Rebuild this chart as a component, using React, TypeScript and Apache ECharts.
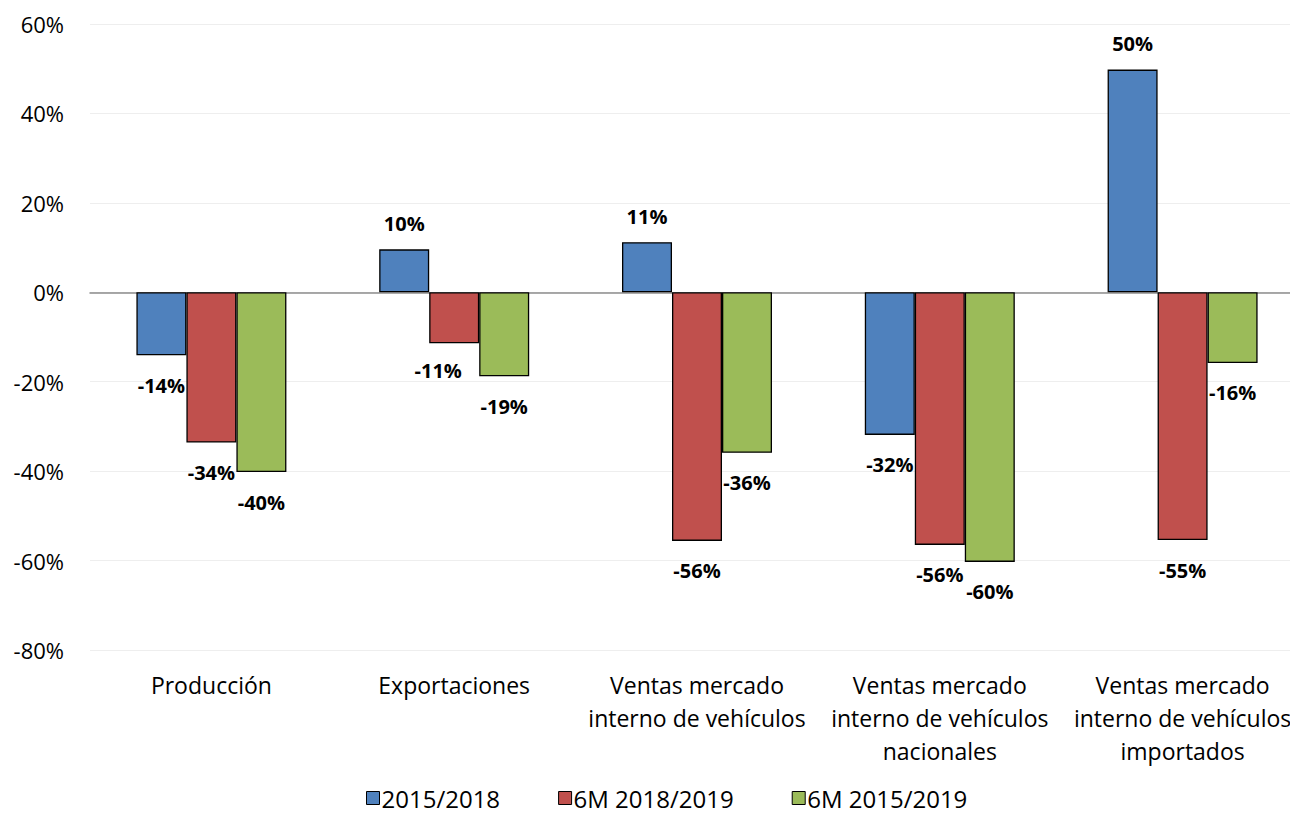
import React, { useEffect, useRef } from "react";
import * as echarts from "echarts";

const categories = [
  "Producción",
  "Exportaciones",
  "Ventas mercado\ninterno de vehículos",
  "Ventas mercado\ninterno de vehículos\nnacionales",
  "Ventas mercado\ninterno de vehículos\nimportados",
];
const seriesNames = ["2015/2018", "6M 2018/2019", "6M 2015/2019"];
const s2015_2018 = [-14.1, 9.6, 11.2, -31.9, 49.8];
const s6m2018_2019 = [-33.6, -11.4, -55.6, -56.5, -55.4];
const s6m2015_2019 = [-40.2, -18.8, -35.9, -60.3, -15.8];
const colors = ["#4F81BD", "#C0504D", "#9BBB59"];
const yMin = -80;
const yMax = 60;
const yInterval = 20;

const FONT = "'Open Sans', 'Noto Sans', sans-serif";

export default function App() {
  const ref = useRef<HTMLDivElement>(null);
  useEffect(() => {
    document.body.style.margin = "0";
    if (!ref.current) return;
    const chart = echarts.init(ref.current, null, { renderer: "svg" });
    const all = [s2015_2018, s6m2018_2019, s6m2015_2019];
    const series = all.map((arr, si) => ({
      name: seriesNames[si],
      type: "bar",
      barWidth: 50,
      barGap: "0%",
      itemStyle: { color: colors[si], borderColor: "#000", borderWidth: 1.3 },
      data: arr.map((v, ci) => {
        const neg = v < 0;
        const label: any = {
          show: true,
          position: neg ? "bottom" : "top",
          distance: neg ? 20 : 16,
          formatter: () => Math.round(v) + "%",
          fontFamily: FONT,
          fontWeight: "bold",
          fontSize: 20,
          color: "#000",
        };
        if (si === 1 && ci === 1) label.offset = [-16, -3];
        return { value: v, label };
      }),
    }));
    chart.setOption({
      animation: false,
      textStyle: { fontFamily: FONT },
      grid: { left: 90, right: -14, top: 24, bottom: 184, outerBoundsMode: "none", containLabel: false },
      xAxis: {
        type: "category",
        data: categories,
        axisTick: { show: false },
        axisLine: { lineStyle: { color: "#8c8c8c", width: 1.5 } },
        axisLabel: {
          interval: 0,
          color: "#000",
          fontSize: 23,
          lineHeight: 33,
          fontFamily: FONT,
          margin: 18,
          verticalAlign: "top",
        },
      },
      yAxis: {
        type: "value",
        min: yMin,
        max: yMax,
        interval: yInterval,
        axisLine: { show: false },
        axisTick: { show: false },
        axisLabel: {
          formatter: (v: number) => v + "%",
          color: "#000",
          fontSize: 22,
          fontFamily: FONT,
          margin: 26,
        },
        splitLine: { lineStyle: { color: "#eeeeee", width: 1 } },
      },
      legend: {
        data: seriesNames,
        top: 781,
        left: 361,
        icon: "rect",
        itemWidth: 13,
        itemHeight: 13,
        itemGap: 58,
        itemStyle: { borderColor: "#000", borderWidth: 1 },
        textStyle: { fontSize: 24, color: "#000", fontFamily: FONT, padding: [0, 0, 0, -3] },
      },
      series,
    });
    return () => chart.dispose();
  }, []);
  return <div ref={ref} style={{ width: 1290, height: 834 }} />;
}
